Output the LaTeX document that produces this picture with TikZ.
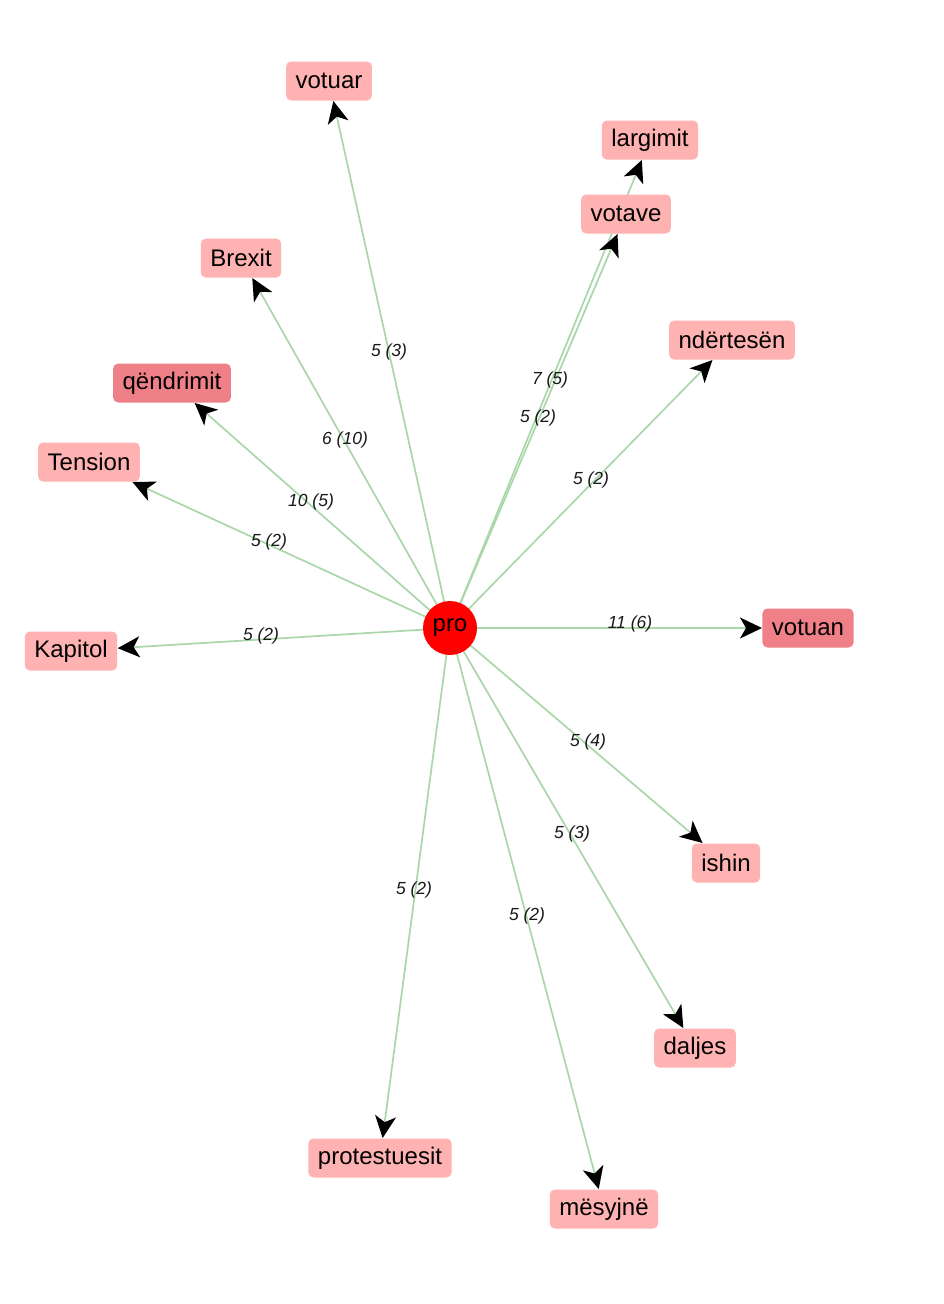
\documentclass[tikz,border=0pt]{standalone}
\usepackage{fontspec}
\setmainfont{Liberation Sans}
\usetikzlibrary{arrows.meta,backgrounds}
\definecolor{nodelight}{RGB}{255,178,178}
\definecolor{nodedark}{RGB}{240,128,136}
\definecolor{edgegreen}{RGB}{170,215,170}
\begin{document}
\begin{tikzpicture}[x=1pt,y=-1pt,
  word/.style={rectangle, rounded corners=5pt, fill=nodelight, inner xsep=9.5pt, inner ysep=0pt,
    minimum height=39pt, font=\fontsize{24}{26}\selectfont, text=black, outer sep=0.5pt},
  worddark/.style={word, fill=nodedark},
  hub/.style={circle, fill=red, minimum size=54pt, inner sep=0pt, font=\fontsize{24}{26}\selectfont},
  link/.style={draw=edgegreen, line width=1.7pt, -{Stealth[length=22pt,width=21pt,inset=6pt,fill=black,color=black]}},
  elabel/.style={font=\fontsize{17.5}{19}\selectfont\itshape, text=black!90, inner sep=0pt}
]
\useasboundingbox (0,0) rectangle (943,1304);

\node[word] (votuar) at (329,81) {votuar};
\node[word] (largimit) at (650,140) {largimit};
\node[word] (votave) at (626,214) {votave};
\node[word] (brexit) at (241,258) {Brexit};
\node[word] (ndertesen) at (732,340) {ndërtesën};
\node[worddark] (qendrimit) at (172,383) {qëndrimit};
\node[word] (tension) at (89,462) {Tension};
\node[word] (kapitol) at (71,651) {Kapitol};
\node[worddark] (votuan) at (808,628) {votuan};
\node[word] (ishin) at (726,863) {ishin};
\node[word] (daljes) at (695,1048) {daljes};
\node[word] (protestuesit) at (380,1158) {protestuesit};
\node[word] (mesyjne) at (604,1209) {mësyjnë};

\node[hub] (pro) at (450,628) {pro};

\begin{scope}[on background layer]
\fill[white] (0,0) rectangle (943,1304);
\draw[link] (pro.center) -- (votuar);
\draw[link] (pro.center) -- (largimit);
\draw[link] (pro.center) -- (votave);
\draw[link] (pro.center) -- (brexit);
\draw[link] (pro.center) -- (ndertesen);
\draw[link] (pro.center) -- (qendrimit);
\draw[link] (pro.center) -- (tension);
\draw[link] (pro.center) -- (kapitol);
\draw[link] (pro.center) -- (votuan);
\draw[link] (pro.center) -- (ishin);
\draw[link] (pro.center) -- (daljes);
\draw[link] (pro.center) -- (protestuesit);
\draw[link] (pro.center) -- (mesyjne);
\end{scope}

\node[elabel] (l1) at (389,352) {5 (3)};
\node[elabel] (l2) at (345,440) {6 (10)};
\node[elabel] (l3) at (311,502) {10 (5)};
\node[elabel] (l4) at (269,542) {5 (2)};
\node[elabel] (l5) at (261,636) {5 (2)};
\node[elabel] (l6) at (550,380) {7 (5)};
\node[elabel] (l7) at (538,418) {5 (2)};
\node[elabel] (l8) at (591,480) {5 (2)};
\node[elabel] (l9) at (630,624) {11 (6)};
\node[elabel] (l10) at (588,742) {5 (4)};
\node[elabel] (l11) at (572,834) {5 (3)};
\node[elabel] (l12) at (414,890) {5 (2)};
\node[elabel] (l13) at (527,916) {5 (2)};
\end{tikzpicture}
\end{document}
